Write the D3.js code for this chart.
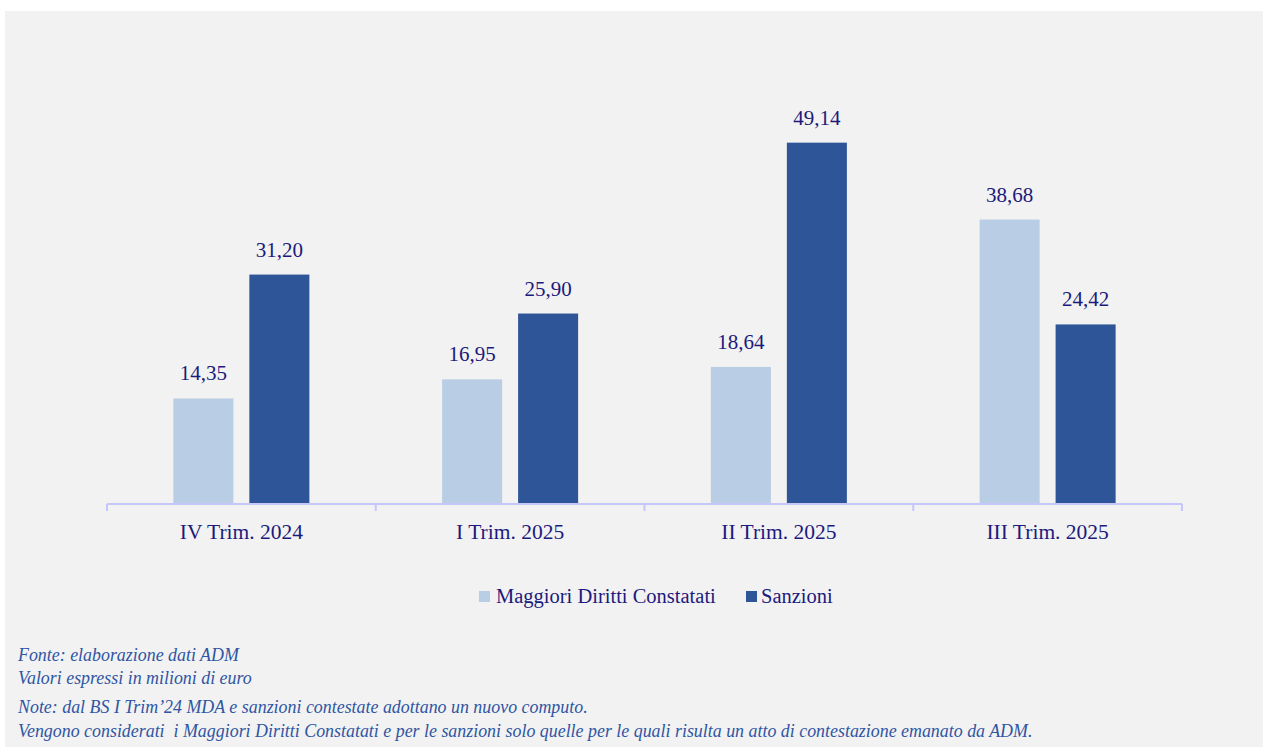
<!DOCTYPE html>
<html><head><meta charset="utf-8">
<script src="https://cdn.jsdelivr.net/npm/d3@7"></script>
<style>body{margin:0;background:#fff;}svg{display:block;}</style>
</head><body>
<script>
const categories = ["IV Trim. 2024", "I Trim. 2025", "II Trim. 2025", "III Trim. 2025"];
const seriesNames = ["Maggiori Diritti Constatati", "Sanzioni"];
const maggioriDiritti = [14.35, 16.95, 18.64, 38.68];
const sanzioni = [31.20, 25.90, 49.14, 24.42];
const notes = [
  "Fonte: elaborazione dati ADM",
  "Valori espressi in milioni di euro",
  "Note: dal BS I Trim\u201924 MDA e sanzioni contestate adottano un nuovo computo.",
  "Vengono considerati  i Maggiori Diritti Constatati e per le sanzioni solo quelle per le quali risulta un atto di contestazione emanato da ADM."
];

const W = 1263, H = 747;
const colors = ["#b9cde5", "#2e5597"];
const textCol = "#1c1a7c";
const noteCol = "#2f55a3";
const font = "'Liberation Serif', 'DejaVu Serif', serif";

const svg = d3.select("body").append("svg").attr("width", W).attr("height", H);
svg.append("rect").attr("x", 5).attr("y", 11).attr("width", W - 5).attr("height", H - 11).attr("fill", "#f2f2f2");

const x0 = d3.scaleBand().domain(categories).range([107, 1182]).padding(0);
const bw = x0.bandwidth();
const x1 = d3.scaleBand().domain(seriesNames).range([bw / 2 - 68, bw / 2 + 68]).paddingInner(0.21).paddingOuter(0);
const y = d3.scaleLinear().domain([0, 60]).range([504, 62.8]);

const series = [maggioriDiritti, sanzioni];
const data = [];
categories.forEach((c, i) => seriesNames.forEach((s, j) => data.push({c, s, v: series[j][i], j})));

const fmt = v => d3.format(".2f")(v).replace(".", ",");

const g = svg.append("g");
g.selectAll("rect.bar").data(data).join("rect")
  .attr("class", "bar")
  .attr("x", d => x0(d.c) + x1(d.s))
  .attr("width", x1.bandwidth())
  .attr("y", d => y(d.v))
  .attr("height", d => y(0) - y(d.v))
  .attr("fill", d => colors[d.j]);

g.selectAll("text.val").data(data).join("text")
  .attr("class", "val")
  .attr("x", d => x0(d.c) + x1(d.s) + x1.bandwidth() / 2)
  .attr("y", d => y(d.v) - 18)
  .attr("text-anchor", "middle")
  .attr("font-family", font).attr("font-size", 21).attr("fill", textCol)
  .text(d => fmt(d.v));

// axis
const axis = d3.axisBottom(x0).tickSize(0).tickFormat(d => d);
const ax = svg.append("g").attr("transform", `translate(0,${y(0)})`).call(axis);
ax.select(".domain").attr("stroke", "#c6c6fb").attr("stroke-width", 2).attr("d", `M107,0H1182`);
ax.selectAll(".tick text").attr("font-family", font).attr("font-size", 21.5).attr("fill", textCol).attr("dy", 0).attr("y", 35);
const bounds = [...categories.map(c => x0(c)), x0(categories[categories.length - 1]) + bw];
ax.selectAll("line.sep").data(bounds).join("line").attr("class", "sep")
  .attr("x1", d => d).attr("x2", d => d).attr("y1", 0).attr("y2", 7)
  .attr("stroke", "#c6c6fb").attr("stroke-width", 2);

// legend
const leg = svg.append("g").attr("font-family", font).attr("font-size", 20.5).attr("fill", textCol);
const legItems = [{x: 479, tx: 496}, {x: 746, tx: 761}];
seriesNames.forEach((s, j) => {
  leg.append("rect").attr("x", legItems[j].x).attr("y", 591).attr("width", 11).attr("height", 11).attr("fill", colors[j]);
  leg.append("text").attr("x", legItems[j].tx).attr("y", 603).text(s);
});

// notes
const noteY = [661, 684, 713, 737];
svg.append("g").attr("font-family", font).attr("font-size", 17.9).attr("font-style", "italic").attr("fill", noteCol)
  .selectAll("text").data(notes).join("text")
  .attr("x", 18).attr("y", (d, i) => noteY[i]).attr("xml:space", "preserve").style("white-space", "pre").text(d => d);
</script>
</body></html>
